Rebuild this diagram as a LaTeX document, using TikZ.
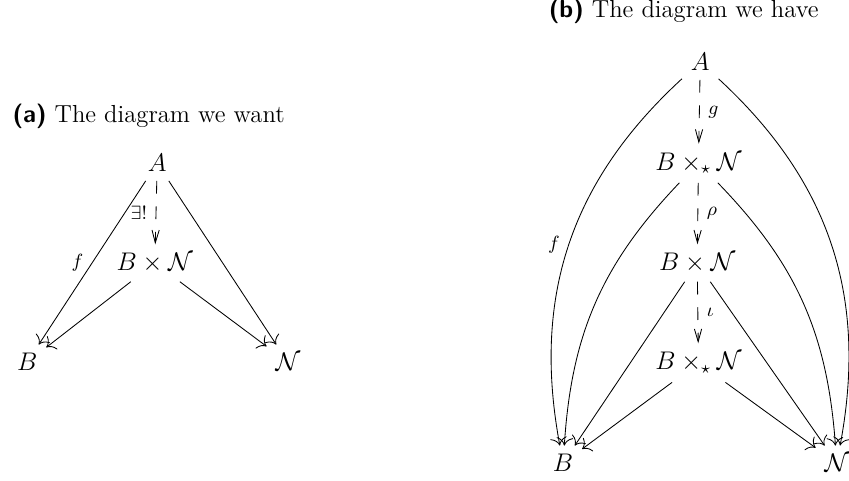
\documentclass[12pt,tikz,border=0pt]{standalone}
\usepackage{amsmath, amssymb}
\usepackage{tikz}
\usetikzlibrary{arrows.meta}
\tikzset{cmto/.style={-{Computer Modern Rightarrow[scale=1.5]}}}
\tikzset{dashto/.style={-{Straight Barb[length=6pt,width=3.4pt]}, dash pattern=on 6pt off 6pt}}
\tikzset{lbl/.style={font=\fontsize{8.6}{10}\selectfont}}

\begin{document}
\begin{tikzpicture}[scale=1.0, font=\fontsize{11.6}{14}\selectfont]
\useasboundingbox (0,0) rectangle (14.04,7.94);
% (a) the diagram we want
\node[anchor=base west] (capa) at (0.06,5.92) {\textsf{\textbf{(a)}} The diagram we want};
\node (aA) at (2.60,5.24) {$A$};
\node (aBN) at (2.56,3.59) {$B\times\mathcal{N}$};
\node (aB) at (0.45,1.95) {$B$};
\node (aN) at (4.76,1.95) {$\mathcal{N}$};
\draw[cmto] (aA) -- (aB) node[lbl,midway,left]{$f$};
\draw[cmto] (aA) -- (aN);
\draw[dashto] (aA) -- (aBN) node[lbl,midway,left]{$\exists!$};
\draw[cmto] (aBN) -- (aB);
\draw[cmto] (aBN) -- (aN);
% (b) the diagram we have
\node[anchor=base west] (capb) at (8.93,7.65) {\textsf{\textbf{(b)}} The diagram we have};
\node (bA) at (11.58,6.91) {$A$};
\node (btop) at (11.55,5.24) {$B\times_\star\mathcal{N}$};
\node (bmid) at (11.53,3.59) {$B\times\mathcal{N}$};
\node (bbot) at (11.55,1.94) {$B\times_\star\mathcal{N}$};
\node (bB) at (9.31,0.28) {$B$};
\node (bN) at (13.84,0.28) {$\mathcal{N}$};
\draw[dashto] (bA) -- (btop) node[lbl,midway,right]{$g$};
\draw[dashto] (btop) -- (bmid) node[lbl,midway,right]{$\rho$};
\draw[dashto] (bmid) -- (bbot) node[lbl,midway,right]{$\iota$};
\draw[cmto] (bA) to[bend right=29] node[lbl,midway,left]{$f$} (bB);
\draw[cmto] (bA) to[bend left=29] (bN);
\draw[cmto] (btop) to[bend right=20] (bB);
\draw[cmto] (btop) to[bend left=20] (bN);
\draw[cmto] (bmid) -- (bB);
\draw[cmto] (bmid) -- (bN);
\draw[cmto] (bbot) -- (bB);
\draw[cmto] (bbot) -- (bN);
\end{tikzpicture}
\end{document}
